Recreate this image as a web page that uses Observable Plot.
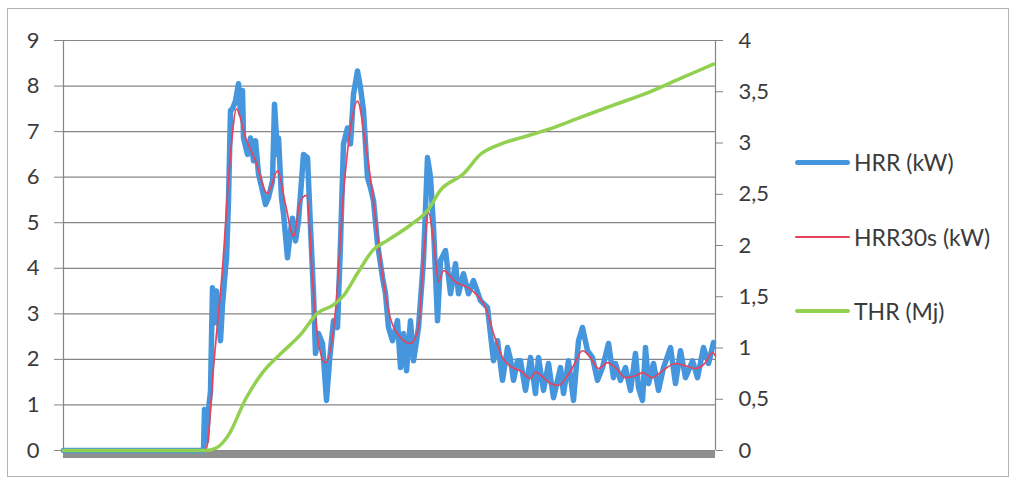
<!DOCTYPE html>
<html><head><meta charset="utf-8">
<script src="https://cdn.jsdelivr.net/npm/d3@7"></script>
<script src="https://cdn.jsdelivr.net/npm/@observablehq/plot@0.6"></script>
<style>
body{margin:0;background:#fff;}
#wrap{position:relative;width:1016px;height:481px;font-family:Lato,sans-serif;overflow:hidden;}
#border{position:absolute;left:7px;top:8px;width:1002px;height:469px;border:1px solid #b4b4b4;box-sizing:border-box;}
#chart{position:absolute;left:0;top:0;}
.item{position:absolute;left:795px;display:flex;align-items:center;white-space:nowrap;font-size:23px;color:#3b3b3b;height:26px;}
.sw{width:55px;margin-right:4px;border-radius:3px;}
</style></head><body>
<div id="wrap"><div id="border"></div><div id="chart"></div><div id="legend"></div></div>
<script>
// time (s) domain of the test
const xDomain = [0, 1304];
// left axis ticks (kW) and right axis ticks (MJ)
const leftTicks = [0,1,2,3,4,5,6,7,8,9];
const rightTicks = [0,0.5,1,1.5,2,2.5,3,3.5,4];
const seriesNames = ["HRR (kW)", "HRR30s (kW)", "THR (Mj)"];
const seriesColors = ["#4596dc", "#e8435a", "#92d050"];

// HRR (kW) raw: [time, value]
const hrr = [[0,0],[280,0],[282,0.9],[286,0.2],[290,0.9],[294,1.3],[298,3.57],[302,2.8],[306,3.5],[314,2.41],[318,3.2],[324,4.0],[326,4.2],[330,5.5],[334,7.46],[338,7.5],[344,7.67],[350,8.05],[354,7.4],[358,7.9],[360,6.86],[368,6.5],[374,6.86],[380,6.36],[384,6.8],[390,6.07],[398,5.7],[404,5.4],[410,5.55],[418,5.92],[422,7.6],[428,6.5],[430,6.86],[436,5.55],[440,5.2],[448,4.23],[454,4.82],[458,5.1],[464,4.6],[470,5.04],[480,6.5],[488,6.43],[494,4.9],[500,3.44],[504,2.13],[510,2.57],[518,2.35],[526,1.1],[532,1.97],[540,2.85],[548,2.7],[554,4.54],[560,6.73],[568,7.08],[574,6.73],[580,7.82],[588,8.33],[594,7.96],[600,7.46],[608,5.99],[614,5.77],[620,5.48],[628,4.54],[638,3.8],[644,3.44],[650,2.7],[658,2.41],[668,2.85],[674,1.82],[680,2.57],[686,1.75],[694,2.85],[700,1.97],[710,2.7],[720,4.17],[728,6.43],[734,6.0],[740,4.9],[748,2.85],[754,4.17],[764,4.39],[774,3.44],[784,4.1],[790,3.44],[800,3.88],[810,3.44],[820,3.73],[834,3.29],[848,3.14],[860,1.97],[868,2.41],[878,1.54],[888,2.26],[894,2.0],[900,1.54],[908,1.97],[914,1.97],[924,1.32],[934,2.04],[944,1.25],[950,2.04],[960,1.32],[970,1.91],[980,1.16],[994,1.82],[1000,1.25],[1010,1.97],[1020,1.1],[1030,2.41],[1038,2.7],[1048,2.19],[1058,2.04],[1068,1.54],[1078,1.82],[1090,2.35],[1100,1.6],[1104,1.91],[1114,1.54],[1124,1.82],[1134,1.32],[1144,2.13],[1150,1.38],[1158,1.1],[1164,2.26],[1170,1.47],[1180,1.91],[1190,1.32],[1200,1.82],[1214,2.26],[1224,1.47],[1234,2.19],[1244,1.6],[1258,1.97],[1268,1.6],[1280,2.26],[1290,1.91],[1300,2.37]];

// HRR30s (kW) smoothed: [time, value]
const hrr30 = [[0,0],[284,0],[288,0.15],[300,1.82],[318,4.0],[334,6.5],[346,7.5],[364,6.87],[384,6.36],[408,5.64],[428,6.14],[444,5.4],[460,4.7],[474,5.48],[486,5.6],[500,3.44],[510,2.35],[524,1.93],[544,3.07],[560,5.64],[574,7.08],[588,7.67],[604,6.73],[618,5.64],[634,4.17],[650,3.07],[674,2.48],[694,2.35],[710,2.7],[720,4.23],[730,5.22],[740,4.6],[750,3.7],[760,3.95],[784,3.7],[810,3.57],[828,3.4],[844,3.14],[860,2.57],[878,2.04],[898,1.82],[914,1.75],[934,1.58],[944,1.72],[960,1.6],[974,1.47],[990,1.43],[1008,1.64],[1020,1.86],[1038,2.19],[1054,2.04],[1070,1.8],[1088,1.93],[1104,1.82],[1124,1.6],[1144,1.64],[1158,1.71],[1178,1.6],[1198,1.75],[1224,1.91],[1244,1.86],[1264,1.8],[1284,1.93],[1298,2.15],[1304,2.08]];

// THR (MJ), right axis: [time, value]
const thr = [[0,0],[284,0],[304,0.02],[330,0.15],[364,0.50],[398,0.76],[438,0.96],[474,1.13],[508,1.34],[540,1.42],[560,1.51],[588,1.73],[620,1.96],[648,2.05],[694,2.2],[728,2.34],[754,2.54],[800,2.7],[834,2.89],[874,2.99],[914,3.05],[968,3.13],[1034,3.25],[1100,3.37],[1168,3.49],[1234,3.63],[1300,3.77]];

const ratio = leftTicks[leftTicks.length-1] / rightTicks[rightTicks.length-1];
const grey = "#858585";
const textCol = "#3b3b3b";

const chart = Plot.plot({
  width: 1016, height: 481,
  marginLeft: 63, marginRight: 301, marginTop: 40, marginBottom: 31,
  style: {fontFamily: "Lato, sans-serif", fontSize: "22px", color: textCol, background: "transparent"},
  x: {domain: xDomain, axis: null},
  y: {domain: [leftTicks[0], leftTicks[leftTicks.length-1]], axis: null},
  marks: [
    Plot.gridY(leftTicks, {stroke: grey, strokeOpacity: 1, strokeWidth: 1.2}),
    Plot.axisY(leftTicks, {anchor: "left", tickSize: 9, tickPadding: 15, stroke: grey, fill: textCol, tickFormat: d => String(d), label: null}),
    Plot.axisY(rightTicks.map(r => r * ratio), {anchor: "right", tickSize: 7, tickPadding: 16, stroke: grey, fill: textCol, tickFormat: d => String(+(d / ratio).toFixed(2)).replace(".", ","), label: null}),
    Plot.ruleX(xDomain, {stroke: grey, strokeWidth: 1.2}),
    Plot.ruleY([0], {stroke: "#8f8f8f", strokeWidth: 7, dy: 4}),
    Plot.line(hrr, {x: d => d[0], y: d => d[1], stroke: seriesColors[0], strokeWidth: 5.5, strokeLinejoin: "round", strokeLinecap: "round"}),
    Plot.line(hrr30, {x: d => d[0], y: d => d[1], stroke: seriesColors[1], strokeWidth: 1.7, curve: "monotone-x"}),
    Plot.line(thr, {x: d => d[0], y: d => d[1] * ratio, stroke: seriesColors[2], strokeWidth: 3.5, curve: "monotone-x"})
  ]
});
document.getElementById("chart").appendChild(chart);

const legend = document.getElementById("legend");
const legendTops = [149, 224, 298];
const legendWidths = [5, 2, 4];
seriesNames.forEach((n, i) => {
  const item = document.createElement("div");
  item.className = "item";
  item.style.top = legendTops[i] + "px";
  const sw = document.createElement("div");
  sw.className = "sw";
  sw.style.height = legendWidths[i] + "px";
  sw.style.background = seriesColors[i];
  const t = document.createElement("span");
  t.textContent = n;
  item.appendChild(sw); item.appendChild(t);
  legend.appendChild(item);
});
</script>
</body></html>
